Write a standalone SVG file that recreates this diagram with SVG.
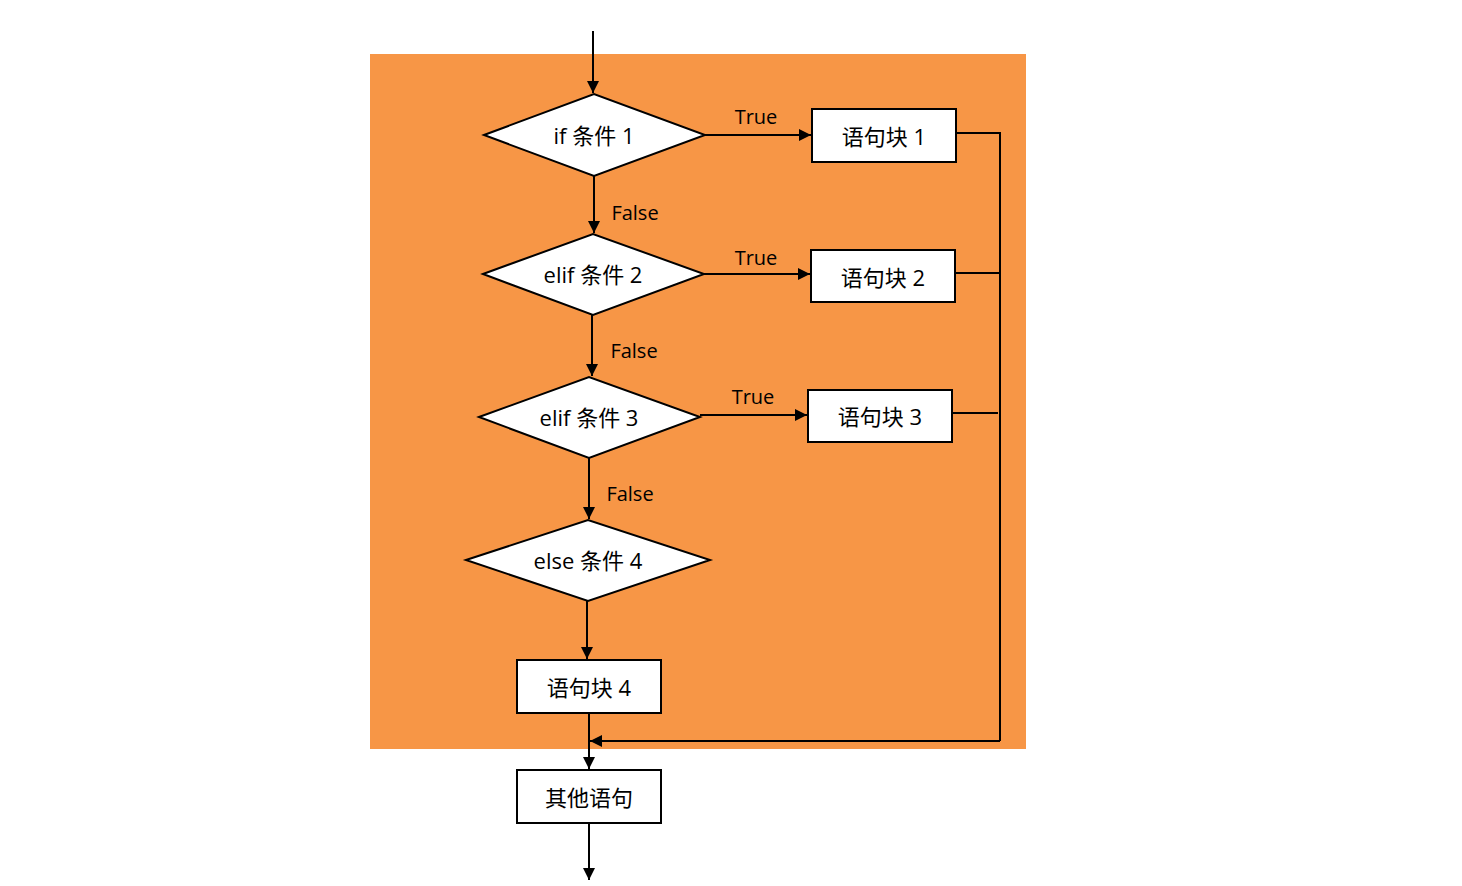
<svg xmlns="http://www.w3.org/2000/svg" width="1462" height="886" viewBox="0 0 1462 886">
<defs>
<marker id="ah" viewBox="0 0 10 10" refX="10" refY="5" markerWidth="13" markerHeight="12" markerUnits="userSpaceOnUse" orient="auto">
<path d="M0,0 L10,5 L0,10 z" fill="#000"/>
</marker>
<style>
.shape{fill:#fff;stroke:#000;stroke-width:2}
.t{font-family:"Open Sans","Noto Sans CJK SC",sans-serif;font-size:22px;fill:#000;text-anchor:middle;dominant-baseline:central}
.lbl{font-family:"Open Sans","Noto Sans CJK SC",sans-serif;font-size:20px;fill:#000;text-anchor:middle;dominant-baseline:central}
.c{fill:none;stroke:#000;stroke-width:2}
.ca{fill:none;stroke:#000;stroke-width:2;marker-end:url(#ah)}
</style>
</defs>
<rect width="1462" height="886" fill="#fff"/>
<rect x="370" y="54" width="656" height="695" fill="#F79646"/>
<g id="connectors">
<line class="ca" x1="593" y1="31" x2="593" y2="93"/>
<line class="ca" x1="705" y1="135" x2="811" y2="135"/>
<line class="ca" x1="594" y1="176" x2="594" y2="233"/>
<line class="ca" x1="704" y1="274" x2="810" y2="274"/>
<line class="ca" x1="592" y1="315" x2="592" y2="376"/>
<line class="ca" x1="700" y1="415" x2="807" y2="415"/>
<line class="ca" x1="589" y1="458" x2="589" y2="519"/>
<line class="ca" x1="587" y1="601" x2="587" y2="659"/>
<line class="ca" x1="589" y1="713" x2="589" y2="769"/>
<polyline class="c" points="956,133 1000,133 1000,741"/>
<line class="c" x1="955" y1="273" x2="1000" y2="273"/>
<line class="c" x1="952" y1="413" x2="998" y2="413"/>
<line class="ca" x1="1000" y1="741" x2="590" y2="741"/>
<line class="ca" x1="589" y1="823" x2="589" y2="880"/>
<text class="lbl" x="756" y="116">True</text>
<text class="lbl" x="756" y="257">True</text>
<text class="lbl" x="753" y="396">True</text>
<text class="lbl" x="635" y="212">False</text>
<text class="lbl" x="634" y="350">False</text>
<text class="lbl" x="630" y="493">False</text>
</g>
<g id="d1"><polygon class="shape" points="484,135 594,94 705,135 594,176"/><text class="t" x="594" y="135">if 条件 1</text></g>
<g id="b1"><rect class="shape" x="812" y="109" width="144" height="53"/><text class="t" x="884" y="136">语句块 1</text></g>
<g id="d2"><polygon class="shape" points="483,274 593,234 704,274 593,315"/><text class="t" x="593" y="274">elif 条件 2</text></g>
<g id="b2"><rect class="shape" x="811" y="250" width="144" height="52"/><text class="t" x="883" y="277">语句块 2</text></g>
<g id="d3"><polygon class="shape" points="479,417 589,377 700,417 589,458"/><text class="t" x="589" y="417">elif 条件 3</text></g>
<g id="b3"><rect class="shape" x="808" y="390" width="144" height="52"/><text class="t" x="880" y="416">语句块 3</text></g>
<g id="d4"><polygon class="shape" points="466,560 588,520 710,560 588,601"/><text class="t" x="588" y="560">else 条件 4</text></g>
<g id="b4"><rect class="shape" x="517" y="660" width="144" height="53"/><text class="t" x="589" y="687">语句块 4</text></g>
<g id="b5"><rect class="shape" x="517" y="770" width="144" height="53"/><text class="t" x="589" y="797">其他语句</text></g>
</svg>
